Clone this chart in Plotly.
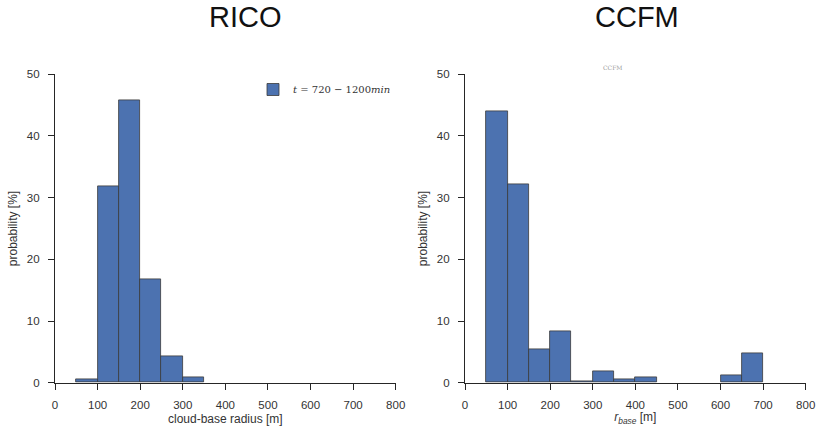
import plotly.graph_objects as go

bin_width = 50
rico_bin_left = [50, 100, 150, 200, 250, 300]
rico_prob = [0.6, 31.8, 45.8, 16.7, 4.2, 0.8]

ccfm_bin_left = [50, 100, 150, 200, 250, 300, 350, 400, 600, 650]
ccfm_prob = [44.0, 32.1, 5.4, 8.4, 0.3, 1.8, 0.6, 0.9, 1.2, 4.8]

x_ticks = [0, 100, 200, 300, 400, 500, 600, 700, 800]
y_ticks = [0, 10, 20, 30, 40, 50]

bar_color = "#4C72B0"
edge_color = "#3a3a3a"
font_family = "Liberation Sans, Arial, sans-serif"

W, H = 816, 426


def px(x):
    return x / W


def py(y):
    return 1 - y / H


fig = go.Figure()
fig.add_trace(go.Bar(
    x=[b + bin_width / 2 for b in rico_bin_left], y=rico_prob, width=bin_width,
    marker=dict(color=bar_color, line=dict(color=edge_color, width=0.8)),
    name="<i>t</i> = 720 − 1200<i>min</i>", xaxis="x", yaxis="y", showlegend=True,
))
fig.add_trace(go.Bar(
    x=[b + bin_width / 2 for b in ccfm_bin_left], y=ccfm_prob, width=bin_width,
    marker=dict(color=bar_color, line=dict(color=edge_color, width=0.8)),
    xaxis="x2", yaxis="y2", showlegend=False,
))

axis_common = dict(
    showline=True, linecolor="#262626", linewidth=1.3,
    ticks="outside", ticklen=6, tickwidth=1.2, tickcolor="#262626",
    showgrid=False, zeroline=False, automargin=False, ticklabeloverflow="allow",
    tickfont=dict(family=font_family, size=11.5, color="#333333"),
)
title_font = dict(family=font_family, size=12, color="#333333")

x1 = [px(55), px(395.7)]
x2 = [px(465), px(805.7)]
yd = [py(382.7), py(74.3)]

fig.update_layout(
    width=W, height=H,
    margin=dict(l=0, r=0, t=0, b=0, autoexpand=False),
    paper_bgcolor="white", plot_bgcolor="white",
    bargap=0,
    xaxis=dict(domain=x1, range=[0, 800], tickvals=x_ticks, ticklabelstandoff=5,
               title=dict(text="cloud-base radius [m]", standoff=6, font=title_font),
               anchor="y", **axis_common),
    yaxis=dict(domain=yd, range=[0, 50], tickvals=y_ticks, ticklabelstandoff=6,
               title=dict(text="probability [%]", standoff=6, font=title_font),
               anchor="x", **axis_common),
    xaxis2=dict(domain=x2, range=[0, 800], tickvals=x_ticks, ticklabelstandoff=5,
                title=dict(text="<i>r</i><sub><i>base</i></sub> [m]", standoff=4, font=title_font),
                anchor="y2", **axis_common),
    yaxis2=dict(domain=yd, range=[0, 50], tickvals=y_ticks, ticklabelstandoff=6,
                title=dict(text="probability [%]", standoff=6, font=title_font),
                anchor="x2", **axis_common),
    legend=dict(x=px(253), y=py(75), xanchor="left", yanchor="top",
                bgcolor="rgba(0,0,0,0)",
                font=dict(family="DejaVu Serif, serif", size=10, color="#333333")),
    annotations=[
        dict(text="RICO", x=px(245), y=py(17), xref="paper", yref="paper", showarrow=False,
             xanchor="center", yanchor="middle",
             font=dict(family=font_family, size=29, color="#111111")),
        dict(text="CCFM", x=px(637), y=py(17), xref="paper", yref="paper", showarrow=False,
             xanchor="center", yanchor="middle",
             font=dict(family=font_family, size=29, color="#111111")),
        dict(text="CCFM", x=px(613), y=py(68), xref="paper", yref="paper", showarrow=False,
             xanchor="center", yanchor="middle",
             font=dict(family="DejaVu Serif, serif", size=6, color="#999999")),
    ],
)

fig.write_html("out.html", config={"displayModeBar": False},
               post_script="document.body.style.margin='0';")
